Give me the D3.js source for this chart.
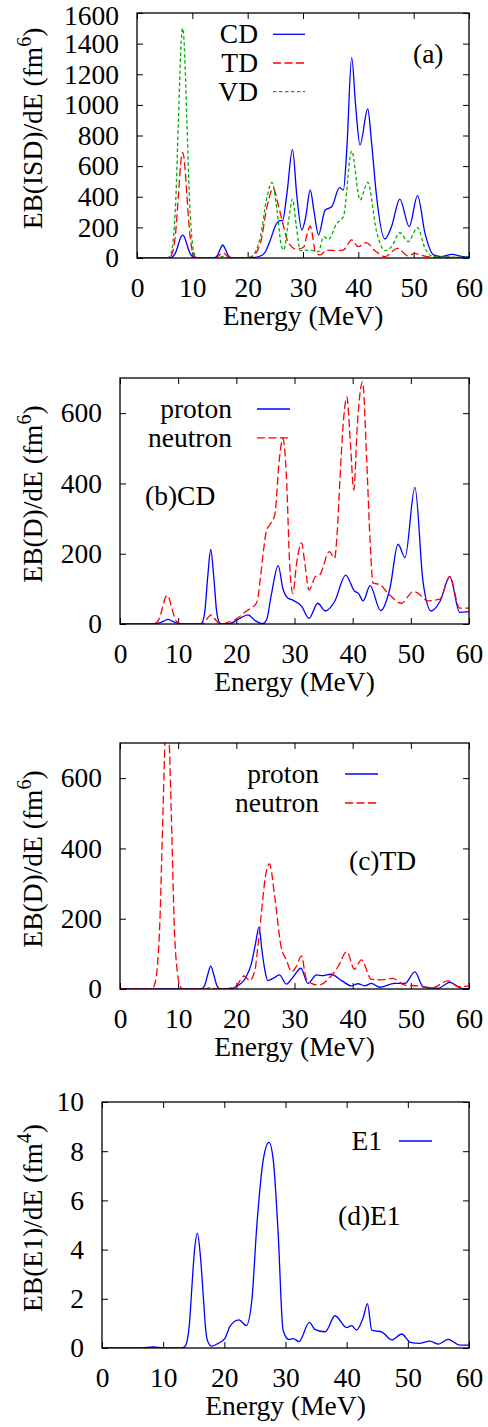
<!DOCTYPE html>
<html>
<head>
<meta charset="utf-8">
<script src="https://cdn.jsdelivr.net/npm/d3@7"></script>
<style>
body { margin: 0; background: #fff; }
svg text { font-family: "Liberation Serif", "Times New Roman", serif; font-size: 27.5px; fill: #000; }
</style>
</head>
<body>
<div class="div-chart"></div>
<script>
// energy axis
const energyTicks = [0, 10, 20, 30, 40, 50, 60];

// (a) isoscalar dipole strengths, [E (MeV), EB/dE (fm^6)]
const cdTotal = [[0,0],[5.5,0],[6.0,2],[6.5,10],[7.0,37],[7.5,91],[8.0,142],[8.25,150],[8.5,142],[9.0,91],[9.5,37],[10.0,10],[10.5,2],[11.0,0],
  [13.5,0],[14.0,2],[14.5,15],[15.0,55],[15.5,85],[16.0,55],[16.5,15],[17.0,2],[17.5,0],
  [20.5,1],[22.3,13],[23.2,41],[24.1,118],[25.0,209],[25.8,244],[26.3,244],[27.1,422],[28.1,710],[28.9,400],[29.8,183],[30.5,270],[31.3,444],[32.05,290],[32.8,150],
  [34.0,313],[35.2,335],[36.6,459],[37.3,444],[37.9,700],[38.8,1308],[39.5,1000],[40.3,738],[41.7,973],[42.4,750],[43.3,400],[44.8,124],[46.0,205],[47.5,385],
  [49.2,205],[50.7,407],[52.05,161],[53.6,20],[55.1,9],[56.9,24],[59.0,9],[60,7]];
const tdTotal = [[0,0],[5.5,0],[6.0,8],[6.5,46],[7.0,172],[7.5,419],[8.0,653],[8.25,690],[8.5,653],[9.0,419],[9.5,172],[10.0,46],[10.5,8],[11.0,0],
  [14.0,0],[14.5,6],[15.0,23],[15.5,35],[16.0,23],[16.5,6],[17.0,0],
  [19.5,0],[20.8,9],[22.3,96],[23.5,335],[24.6,455],[25.6,335],[26.5,205],[27.4,96],[28.9,57],[30.1,70],[30.7,150],[31.3,209],[31.8,130],[32.2,41],[33.1,20],
  [34.3,52],[36.1,48],[37.3,52],[38.8,118],[40.0,74],[41.4,100],[43.0,48],[44.8,9],[47.1,63],[49.0,13],[50.2,30],[51.1,20],[53.6,5],[60,3]];
const vdTotal = [[0,0],[5.5,2],[6.0,17],[6.5,99],[7.0,375],[7.5,910],[8.0,1420],[8.25,1500],[8.5,1420],[9.0,910],[9.5,375],[10.0,99],[10.5,17],[11.0,2],[11.5,0],
  [14.5,0],[15.0,6],[15.5,10],[16.0,6],[16.5,0],
  [19.5,0],[20.8,13],[22.3,139],[23.5,400],[24.4,494],[25.3,313],[26.0,96],[26.5,52],[27.4,248],[28.1,385],[28.8,205],[29.5,48],[31.3,52],[32.8,41],
  [33.7,139],[34.6,122],[36.1,226],[37.3,270],[38.8,699],[40.3,379],[41.7,494],[43.3,172],[44.8,48],[46.0,74],[47.5,165],[49.0,107],[50.7,198],
  [52.05,63],[53.6,9],[60,5]];

// (b) CD split into proton / neutron
const cdProton = [[0,0],[6.0,0],[6.75,3],[7.5,8],[8.25,13],[9.0,8],[9.75,3],[10.5,0],
  [13.6,0],[14.1,4],[14.6,38],[15.1,138],[15.6,212],[16.1,138],[16.6,38],[17.1,4],[17.6,0],
  [19.0,2],[20.5,15],[22.0,26],[23.2,10],[24.5,1],[25.2,12],[26.0,82],[27.2,166],[28.0,101],[28.9,73],[29.7,68],[31.2,51],[32.5,16],[34.0,59],[35.3,37],
  [36.9,64],[38.8,139],[40.3,94],[41.0,87],[41.8,66],[43.0,109],[44.8,38],[46.4,101],[47.8,227],[49.0,189],[50.7,389],[52.1,120],[53.5,37],
  [55.0,64],[56.7,135],[58.4,33],[60,35]];
const cdNeutron = [[0,0],[5.85,1],[6.35,5],[6.85,20],[7.35,49],[7.85,77],[8.1,81],[8.35,77],[8.85,49],[9.35,20],[9.85,5],[10.35,1],[11.0,0],
  [14.1,0],[14.6,5],[15.1,18],[15.7,26],[16.3,15],[16.9,3],[17.5,0],
  [18.6,5],[20.0,14],[21.4,33],[22.5,45],[23.2,54],[23.6,65],[24.1,125],[24.6,200],[25.2,267],[25.7,281],[26.6,310],[27.4,470],[28.0,528],[28.6,424],
  [29.2,160],[29.7,87],[30.4,177],[31.2,231],[31.8,170],[32.5,97],[33.6,135],[34.3,139],[36.0,206],[36.9,187],[37.3,250],[37.9,440],[38.5,594],
  [39.0,646],[39.6,518],[40.2,381],[40.8,566],[41.7,689],[42.4,471],[43.0,234],[43.5,116],[44.6,113],[46.1,87],[48.4,59],[50.4,92],[51.0,90],
  [52.9,66],[55.0,71],[56.7,135],[58.4,45],[60,45]];

// (c) TD split into proton / neutron
const tdProton = [[0,0],[13.6,0],[14.1,1],[14.6,12],[15.1,42],[15.6,65],[16.1,42],[16.6,12],[17.1,1],[17.6,0],
  [19.0,0],[20.0,7],[21.7,35],[22.6,73],[23.3,130],[23.9,176],[24.4,110],[24.9,54],[25.4,24],[26.3,30],[27.4,40],[28.6,14],[29.8,35],[31.1,59],
  [32.3,16],[33.8,40],[34.9,38],[36.3,42],[38.1,24],[39.8,9],[40.9,15],[42.1,9],[43.2,16],[44.6,5],[47.2,16],[49.0,16],[50.7,49],[52.1,7],
  [54.7,2],[56.7,19],[58.7,2],[60,1]];
const tdNeutron = [[0,0],[5.5,0],[5.85,8],[6.35,50],[6.85,190],[7.35,480],[7.85,750],[8.1,790],[8.35,750],[8.85,480],[9.35,170],[9.85,50],[10.35,8],[10.9,0],
  [14.6,0],[15.6,4],[16.6,0],[17.5,0],
  [19.7,5],[21.4,37],[22.3,24],[23.2,54],[23.7,120],[24.3,215],[25.0,320],[25.7,356],[26.6,263],[27.7,120],[28.6,83],[29.5,49],[30.3,64],[31.2,94],
  [32.0,30],[32.9,16],[34.1,11],[36.3,37],[37.5,64],[39.0,106],[40.3,56],[41.5,83],[43.2,28],[44.9,26],[46.9,30],[49.0,11],[51.2,9],[53.5,2],
  [56.4,23],[58.1,7],[60,8]];

// (d) E1 strength, EB(E1)/dE (fm^4)
const e1Strength = [[0,0],[6.5,0],[8.4,0.04],[10.0,0],[13.0,0],[13.5,0.05],[13.95,0.33],[14.3,1.0],[14.7,2.5],[15.1,3.9],[15.6,4.66],[16.1,3.7],[16.6,1.95],
  [16.9,0.9],[17.2,0.33],[17.9,0.08],[19.0,0.19],[20.1,0.39],[20.9,0.87],[22.4,1.14],[23.6,0.91],[24.5,1.95],[25.3,4.93],[26.4,7.71],[27.3,8.36],
  [28.0,7.64],[28.8,4.66],[29.6,0.73],[30.5,0.35],[31.3,0.38],[32.2,0.26],[33.9,1.04],[34.8,0.76],[36.5,0.66],[38.1,1.31],[40.0,0.83],[40.8,0.91],
  [41.6,0.73],[42.75,1.27],[43.4,1.8],[44.1,0.73],[44.9,0.69],[45.7,0.66],[47.4,0.33],[49.0,0.57],[50.4,0.23],[52.0,0.19],[53.6,0.28],[55.0,0.16],
  [56.6,0.35],[58.5,0.12],[60,0.12]];

const width = 488, height = 1427, plotRight = 469;

const svg = d3.select('.div-chart')
    .append('svg')
    .attr('width', width)
    .attr('height', height);

const styles = {
    blue: { color: '#0000ff', dash: null },
    red: { color: '#ff0000', dash: '8,3.5' },
    green: { color: '#00b000', dash: '3.5,2.5' }
};

function drawPanel(p) {
    const x = d3.scaleLinear().domain([0, 60]).range([p.left, plotRight]);
    const y = d3.scaleLinear().domain([0, p.yMax]).range([p.bottom, p.top]);

    svg.append('clipPath').attr('id', 'clip-' + p.id)
        .append('rect')
        .attr('x', p.left).attr('y', p.top)
        .attr('width', plotRight - p.left).attr('height', p.bottom - p.top);

    const g = svg.append('g');

    // axes, gnuplot style: inward ticks mirrored on all sides
    const fix = sel => {
        sel.select('.domain').remove();
        sel.attr('font-size', null).attr('font-family', null);
        sel.selectAll('line').attr('stroke', '#000').attr('stroke-width', 1);
    };
    g.append('g').attr('transform', `translate(0,${p.bottom})`)
        .call(d3.axisBottom(x).tickValues(energyTicks).tickFormat(d3.format('d'))
            .tickSizeInner(-6).tickSizeOuter(0).tickPadding(19))
        .call(fix);
    g.append('g').attr('transform', `translate(0,${p.top})`)
        .call(d3.axisTop(x).tickValues(energyTicks).tickSizeInner(-6).tickSizeOuter(0).tickFormat(''))
        .call(fix);
    const yAxis = g.append('g').attr('transform', `translate(${p.left},0)`)
        .call(d3.axisLeft(y).tickValues(p.yTicks).tickFormat(d3.format('d'))
            .tickSizeInner(-6).tickSizeOuter(0).tickPadding(18))
        .call(fix);
    // keep the top label of the first panel inside the page
    if (p.top < 20) {
        yAxis.selectAll('.tick text').filter(d => d === p.yMax).attr('dy', '0.42em');
    }
    g.append('g').attr('transform', `translate(${plotRight},0)`)
        .call(d3.axisRight(y).tickValues(p.yTicks).tickSizeInner(-6).tickSizeOuter(0).tickFormat(''))
        .call(fix);

    // curves
    const line = d3.line()
        .x(d => x(d[0]))
        .y(d => y(d[1]))
        .curve(d3.curveMonotoneX);

    p.series.forEach(s => {
        const st = styles[s.style];
        g.append('path')
            .datum(s.data)
            .attr('clip-path', `url(#clip-${p.id})`)
            .attr('fill', 'none')
            .attr('stroke', st.color)
            .attr('stroke-width', 1.3)
            .attr('stroke-dasharray', st.dash)
            .attr('d', line);
    });

    // border
    g.append('rect')
        .attr('x', p.left).attr('y', p.top)
        .attr('width', plotRight - p.left).attr('height', p.bottom - p.top)
        .attr('fill', 'none').attr('stroke', '#000').attr('stroke-width', 1.3);

    // legend
    p.series.forEach((s, i) => {
        const st = styles[s.style];
        const ly = p.legend.y + i * p.legend.step;
        g.append('text')
            .attr('x', p.legend.textRight).attr('y', ly + 9)
            .attr('text-anchor', 'end')
            .text(s.name);
        g.append('line')
            .attr('x1', p.legend.x1).attr('x2', p.legend.x2)
            .attr('y1', ly).attr('y2', ly)
            .attr('stroke', st.color)
            .attr('stroke-width', 1.3)
            .attr('stroke-dasharray', st.dash);
    });

    // panel tag
    g.append('text').attr('x', p.tag.x).attr('y', p.tag.y).text(p.tag.text);

    // axis titles
    g.append('text')
        .attr('x', (p.left + plotRight) / 2).attr('y', p.bottom + 67)
        .attr('text-anchor', 'middle')
        .text('Energy (MeV)');

    const yt = g.append('text')
        .attr('transform', `translate(42,${(p.top + p.bottom) / 2 - 7}) rotate(-90)`)
        .attr('text-anchor', 'middle');
    yt.append('tspan').text(p.yTitle + ' (fm');
    yt.append('tspan').attr('dy', -11).style('font-size', '20px').text(p.yPow);
    yt.append('tspan').attr('dy', 11).text(')');
}

drawPanel({
    id: 'a', left: 137, top: 13, bottom: 258, yMax: 1600,
    yTicks: [0, 200, 400, 600, 800, 1000, 1200, 1400, 1600],
    yTitle: 'EB(ISD)/dE', yPow: '6',
    series: [
        { name: 'CD', style: 'blue', data: cdTotal },
        { name: 'TD', style: 'red', data: tdTotal },
        { name: 'VD', style: 'green', data: vdTotal }
    ],
    legend: { y: 34.3, step: 28.7, textRight: 258, x1: 273, x2: 305 },
    tag: { x: 413, y: 63, text: '(a)' }
});

drawPanel({
    id: 'b', left: 120, top: 378, bottom: 624, yMax: 700,
    yTicks: [0, 200, 400, 600],
    yTitle: 'EB(D)/dE', yPow: '6',
    series: [
        { name: 'proton', style: 'blue', data: cdProton },
        { name: 'neutron', style: 'red', data: cdNeutron }
    ],
    legend: { y: 409, step: 28.8, textRight: 232, x1: 257, x2: 290 },
    tag: { x: 145, y: 505, text: '(b)CD' }
});

drawPanel({
    id: 'c', left: 120, top: 743, bottom: 989, yMax: 700,
    yTicks: [0, 200, 400, 600],
    yTitle: 'EB(D)/dE', yPow: '6',
    series: [
        { name: 'proton', style: 'blue', data: tdProton },
        { name: 'neutron', style: 'red', data: tdNeutron }
    ],
    legend: { y: 774, step: 29, textRight: 319, x1: 345, x2: 378 },
    tag: { x: 349, y: 870, text: '(c)TD' }
});

drawPanel({
    id: 'd', left: 102, top: 1102, bottom: 1348, yMax: 10,
    yTicks: [0, 2, 4, 6, 8, 10],
    yTitle: 'EB(E1)/dE', yPow: '4',
    series: [
        { name: 'E1', style: 'blue', data: e1Strength }
    ],
    legend: { y: 1141, step: 29, textRight: 382, x1: 399, x2: 432 },
    tag: { x: 338, y: 1225, text: '(d)E1' }
});
</script>
</body>
</html>
